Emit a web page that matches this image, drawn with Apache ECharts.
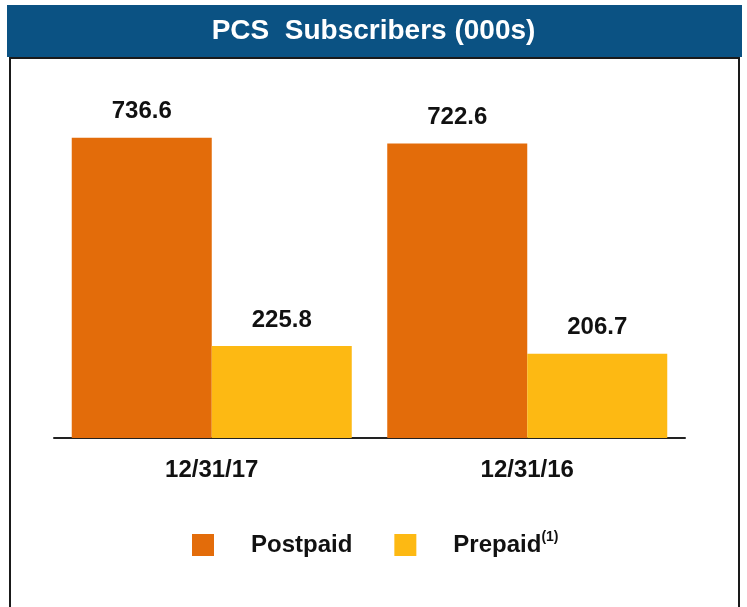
<!DOCTYPE html>
<html>
<head>
<meta charset="utf-8">
<title>PCS Subscribers</title>
<script src="https://cdn.jsdelivr.net/npm/echarts@6/dist/echarts.min.js"></script>
<style>
  html, body { margin: 0; padding: 0; background: #fff; }
  #chart { width: 747px; height: 607px; }
</style>
</head>
<body>
<div id="chart"></div>
<script>
// data
const categories = ['12/31/17', '12/31/16']
const postpaid = [736.6, 722.6]
const prepaid = [225.8, 206.7]
const seriesNames = ['Postpaid', 'Prepaid']

const chart = echarts.init(document.getElementById('chart'))

const labelStyle = {
  show: true,
  position: 'top',
  distance: 14,
  fontSize: 24,
  fontWeight: 'bold',
  color: '#111',
  fontFamily: 'Liberation Sans, Arial, sans-serif',
  formatter: p => p.value.toFixed(1)
}

const option = {
  animation: false,
  textStyle: { fontFamily: 'Liberation Sans, Arial, sans-serif' },
  title: {
    text: 'PCS  Subscribers (000s)',
    left: 'center',
    top: 12,
    textStyle: {
      color: '#fff',
      fontSize: 28,
      fontWeight: 'bold',
      fontFamily: 'Liberation Sans, Arial, sans-serif'
    }
  },
  graphic: [
    {
      type: 'rect',
      z: 0,
      shape: { x: 7, y: 5, width: 735, height: 52 },
      style: { fill: '#0B5283' }
    },
    {
      type: 'rect',
      z: 0,
      shape: { x: 10, y: 58, width: 729, height: 580 },
      style: { fill: 'none', stroke: '#1a1a1a', lineWidth: 2 }
    }
  ],
  legend: {
    data: seriesNames,
    left: 187,
    top: 525,
    icon: 'rect',
    itemWidth: 22,
    itemHeight: 22,
    itemGap: 42,
    formatter: name => name === 'Prepaid' ? '{n|Prepaid}{s|(1)}' : '{n|' + name + '}',
    textStyle: {
      rich: {
        n: {
          fontSize: 24,
          fontWeight: 'bold',
          color: '#111',
          padding: [0, 0, 0, 32]
        },
        s: {
          fontSize: 14,
          fontWeight: 'bold',
          color: '#111',
          padding: [0, 0, 16, 0]
        }
      }
    }
  },
  grid: {
    left: 54,
    right: 62,
    top: 112,
    bottom: 169
  },
  xAxis: {
    type: 'category',
    data: categories,
    axisLine: { lineStyle: { color: '#222', width: 2 } },
    axisTick: { show: false },
    axisLabel: {
      margin: 20,
      fontSize: 24,
      fontWeight: 'bold',
      color: '#111'
    }
  },
  yAxis: {
    type: 'value',
    min: 0,
    max: 800,
    show: false,
    splitLine: { show: false }
  },
  series: [
    {
      name: seriesNames[0],
      type: 'bar',
      data: postpaid,
      barGap: '0%',
      barCategoryGap: '11.25%',
      itemStyle: { color: '#E36C0A' },
      label: labelStyle
    },
    {
      name: seriesNames[1],
      type: 'bar',
      data: prepaid,
      barGap: '0%',
      barCategoryGap: '11.25%',
      itemStyle: { color: '#FDB913' },
      label: labelStyle
    }
  ]
}

chart.setOption(option)
</script>
</body>
</html>
